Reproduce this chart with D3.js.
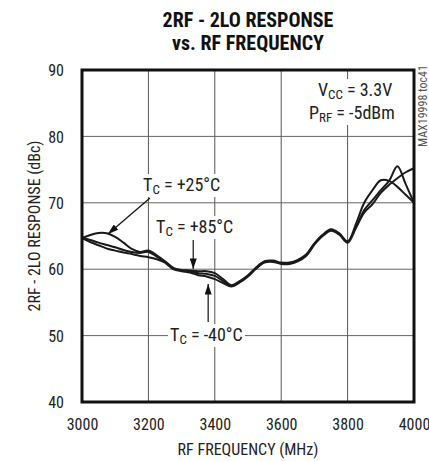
<!DOCTYPE html>
<html>
<head>
<meta charset="utf-8">
<script src="https://cdn.jsdelivr.net/npm/d3@7"></script>
<style>
  html, body { margin: 0; padding: 0; background: #fff; }
  svg { display: block; }
  text { font-family: "Liberation Sans Narrow", "Arial Narrow", "Roboto Condensed", "DejaVu Sans Condensed", sans-serif; fill: #222; }
</style>
</head>
<body>
<div id="chart"></div>
<script>
// ---- data ----
const freq = [3000,3025,3050,3075,3100,3125,3150,3175,3200,3225,3250,3275,3300,3325,3350,3375,3400,3425,3450,3475,3500,3525,3550,3575,3600,3625,3650,3675,3700,3725,3750,3775,3800,3825,3850,3875,3900,3925,3950,3975,4000];
const tc25 = [64.7,65.15,65.45,65.4,64.85,64.0,63.05,62.6,62.8,62.1,61.2,60.2,59.9,59.8,59.7,59.7,59.4,58.5,57.6,58.2,59.1,60.3,61.2,61.3,61.0,61.0,61.4,62.2,63.9,65.2,66.0,65.4,64.2,66.3,68.9,70.4,71.9,73.3,75.5,72.8,70.0];
const tc85 = [64.7,64.4,64.0,63.65,63.3,62.9,62.6,62.45,62.6,61.9,61.1,60.1,59.8,59.7,59.4,59.3,59.0,58.2,57.5,58.1,59.0,60.2,61.1,61.2,60.9,60.9,61.3,62.1,63.8,65.1,65.9,65.3,64.1,66.8,70.0,71.9,73.4,73.3,72.4,71.2,70.0];
const tcm40 = [64.7,64.1,63.6,63.1,62.8,62.5,62.3,62.0,61.8,61.5,61.0,60.0,59.7,59.5,59.1,58.9,58.5,57.9,57.4,58.0,58.9,60.1,61.0,61.1,60.8,60.8,61.2,62.0,63.7,65.0,65.8,65.2,64.0,66.2,68.5,69.8,71.5,72.7,73.7,74.6,75.2];
const xTicks = [3000,3200,3400,3600,3800,4000];
const yTicks = [40,50,60,70,80,90];
const titleLines = ["2RF - 2LO RESPONSE", "vs. RF FREQUENCY"];
const xLabel = "RF FREQUENCY (MHz)";
const yLabel = "2RF - 2LO RESPONSE (dBc)";

const W = 429, H = 461;
const L = 82, R = 414, T = 70, B = 402;

const svg = d3.select("#chart").append("svg").attr("width", W).attr("height", H);

const x = d3.scaleLinear().domain([3000, 4000]).range([L, R]);
const y = d3.scaleLinear().domain([40, 90]).range([B, T]);

// title
svg.append("text").attr("x", 248).attr("y", 27).attr("text-anchor", "middle")
  .style("font-size", "20px").style("font-weight", "bold").style("fill", "#111").text(titleLines[0]);
svg.append("text").attr("x", 248).attr("y", 50).attr("text-anchor", "middle")
  .style("font-size", "20px").style("font-weight", "bold").style("fill", "#111").text(titleLines[1]);

// gridlines
const grid = svg.append("g");
grid.selectAll("line.v").data(xTicks.slice(1, -1)).enter().append("line")
  .attr("x1", d => x(d)).attr("x2", d => x(d)).attr("y1", T).attr("y2", B)
  .attr("stroke", "#555").attr("stroke-width", 1);
grid.selectAll("line.h").data(yTicks.slice(1, -1)).enter().append("line")
  .attr("x1", L).attr("x2", R).attr("y1", d => y(d)).attr("y2", d => y(d))
  .attr("stroke", "#666").attr("stroke-width", 1);

// axes labels
const xAxis = d3.axisBottom(x).tickValues(xTicks).tickSize(0).tickPadding(0).tickFormat(d3.format("d"));
const gx = svg.append("g").attr("transform", `translate(0,${B})`).call(xAxis);
gx.select(".domain").remove();
gx.selectAll("text").attr("y", 28).attr("dy", 0).style("font-size", "16px").style("fill", "#222");

const yAxis = d3.axisLeft(y).tickValues(yTicks).tickSize(0).tickPadding(0);
const gy = svg.append("g").attr("transform", `translate(64,0)`).call(yAxis);
gy.select(".domain").remove();
gy.selectAll("text").attr("x", 0).attr("dy", "0.36em").style("font-size", "16px").style("fill", "#222");

svg.append("text").attr("x", 248).attr("y", 455).attr("text-anchor", "middle")
  .style("font-size", "16px").text(xLabel);
svg.append("text").attr("transform", "translate(40,226) rotate(-90)").attr("text-anchor", "middle")
  .style("font-size", "16px").text(yLabel);

// watermark
svg.append("text").attr("transform", "translate(427,106) rotate(-90)").attr("text-anchor", "middle")
  .style("font-size", "12px").style("fill", "#555").text("MAX19998 toc41");

// curves
const line = d3.line().x((d, i) => x(freq[i])).y(d => y(d)).curve(d3.curveCatmullRom.alpha(0.5));
const series = [tc25, tc85, tcm40];
svg.append("g").selectAll("path").data(series).enter().append("path")
  .attr("d", d => line(d)).attr("fill", "none").attr("stroke", "#1a1a1a")
  .attr("stroke-width", 2).attr("stroke-linejoin", "round");

// annotation helpers
const ann = svg.append("g");
function addParts(t, xx, main, sub, rest, firstDy) {
  t.append("tspan").attr("x", xx).attr("dy", firstDy).text(main);
  t.append("tspan").attr("dy", 3).style("font-size", "13px").text(sub);
  t.append("tspan").attr("dy", -3).text(rest);
}
function boxed(xx, yy, lines, gap) {
  const g = ann.append("g");
  const bg = g.append("rect").attr("fill", "#fff");
  const t = g.append("text").attr("x", xx).attr("y", yy).style("font-size", "18px");
  lines.forEach((l, i) => addParts(t, l[0], l[1], l[2], l[3], i === 0 ? 0 : gap));
  const bb = g.node().getBBox();
  const pad = 2;
  bg.attr("x", bb.x - pad).attr("y", bb.y).attr("width", bb.width + 2 * pad).attr("height", bb.height);
  return g;
}

// arrows
svg.append("defs").append("marker").attr("id", "ah").attr("viewBox", "0 0 12 8")
  .attr("refX", 12).attr("refY", 4).attr("markerWidth", 13).attr("markerHeight", 7)
  .attr("markerUnits", "userSpaceOnUse").attr("orient", "auto")
  .append("path").attr("d", "M0,0 L12,4 L0,8 Z").attr("fill", "#111");

const arrows = svg.append("g");
arrows.append("line").attr("x1", 150).attr("y1", 198).attr("x2", 108).attr("y2", 234)
  .attr("stroke", "#111").attr("stroke-width", 1.2).attr("marker-end", "url(#ah)");
arrows.append("line").attr("x1", x(3335)).attr("y1", 240).attr("x2", x(3335)).attr("y2", 269)
  .attr("stroke", "#111").attr("stroke-width", 1.2).attr("marker-end", "url(#ah)");
arrows.append("line").attr("x1", x(3380)).attr("y1", 322).attr("x2", x(3380)).attr("y2", 284)
  .attr("stroke", "#111").attr("stroke-width", 1.2).attr("marker-end", "url(#ah)");

boxed(143, 191, [[143, "T", "C", " = +25°C"]], 0);
boxed(156, 233, [[156, "T", "C", " = +85°C"]], 0);
boxed(170, 341, [[170, "T", "C", " = -40°C"]], 0);
boxed(318, 96, [[318, "V", "CC", " = 3.3V"], [309, "P", "RF", " = -5dBm"]], 23);

// frame
svg.append("rect").attr("x", L).attr("y", T).attr("width", R - L).attr("height", B - T)
  .attr("fill", "none").attr("stroke", "#111").attr("stroke-width", 3);
</script>
</body>
</html>
